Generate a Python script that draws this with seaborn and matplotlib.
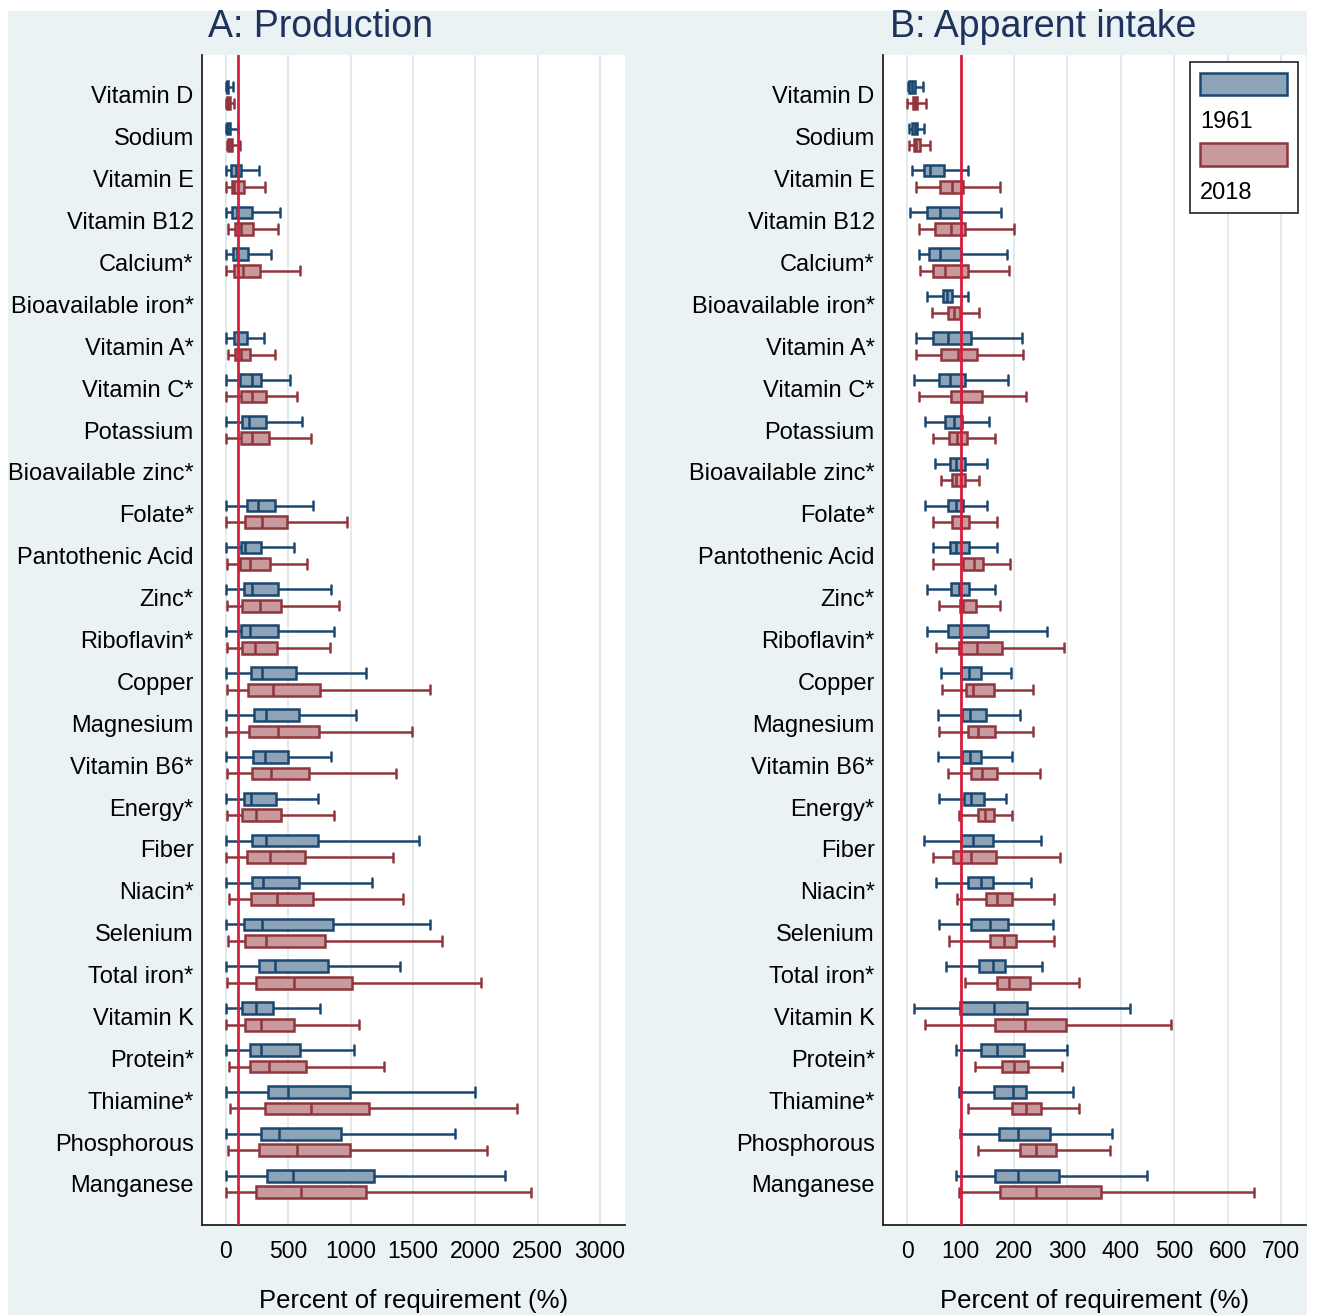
import numpy as np
import pandas as pd
import matplotlib
matplotlib.use("Agg")
import matplotlib.pyplot as plt
from matplotlib.patches import Rectangle
import seaborn as sns

# nutrients, top to bottom
nutrients = ["Vitamin D", "Sodium", "Vitamin E", "Vitamin B12", "Calcium*",
             "Bioavailable iron*", "Vitamin A*", "Vitamin C*", "Potassium",
             "Bioavailable zinc*", "Folate*", "Pantothenic Acid", "Zinc*",
             "Riboflavin*", "Copper", "Magnesium", "Vitamin B6*", "Energy*",
             "Fiber", "Niacin*", "Selenium", "Total iron*", "Vitamin K",
             "Protein*", "Thiamine*", "Phosphorous", "Manganese"]
years = ["1961", "2018"]

# five-number summaries (whisker low, q1, median, q3, whisker high), % of requirement
prod_1961 = [
    (0, 5, 10, 20, 55), (0, 5, 15, 35, 95), (0, 40, 78, 120, 265),
    (0, 48, 90, 211, 433), (0, 59, 85, 174, 358), None,
    (0, 64, 99, 166, 307), (0, 112, 208, 278, 513), (0, 131, 184, 318, 609),
    None, (0, 166, 259, 393, 700), (0, 120, 152, 283, 545),
    (0, 142, 206, 420, 839), (0, 120, 192, 420, 869), (0, 203, 291, 564, 1120),
    (0, 222, 323, 583, 1040), (0, 219, 313, 494, 845), (0, 144, 200, 401, 735),
    (0, 211, 323, 738, 1545), (0, 208, 294, 588, 1168), (0, 147, 289, 858, 1633),
    (0, 267, 390, 815, 1398), (0, 131, 238, 377, 756), (0, 192, 283, 593, 1024),
    (0, 339, 494, 997, 1994), (0, 281, 428, 925, 1836), (0, 329, 535, 1184, 2235),
]
prod_2018 = [
    (0, 5, 15, 30, 65), (5, 15, 35, 50, 110), (0, 45, 67, 145, 313),
    (13, 70, 123, 214, 420), (0, 67, 134, 275, 593), None,
    (13, 72, 118, 192, 396), (0, 123, 206, 318, 569), (0, 123, 208, 345, 679),
    None, (0, 152, 291, 492, 970), (5, 115, 195, 350, 650),
    (5, 128, 275, 438, 903), (5, 131, 235, 412, 837), (5, 179, 374, 756, 1636),
    (0, 187, 414, 746, 1492), (11, 211, 364, 663, 1363), (5, 128, 238, 438, 869),
    (0, 171, 355, 636, 1336), (21, 200, 412, 698, 1422), (13, 152, 323, 797, 1729),
    (11, 240, 545, 1010, 2045), (0, 155, 281, 543, 1069), (21, 192, 345, 639, 1264),
    (29, 313, 682, 1144, 2331), (13, 265, 572, 997, 2096), (0, 238, 604, 1120, 2443),
]
intake_1961 = [
    (1, 3, 9, 14, 29), (3, 9, 14, 19, 32), (9, 32, 42, 69, 113),
    (6, 36, 61, 99, 175), (22, 41, 62, 100, 186), (37, 66, 74, 84, 114),
    (17, 48, 76, 120, 215), (12, 59, 80, 109, 188), (34, 71, 87, 102, 154),
    (51, 80, 91, 109, 150), (33, 77, 92, 104, 149), (49, 80, 92, 115, 169),
    (37, 82, 96, 115, 165), (37, 76, 99, 152, 262), (63, 100, 115, 138, 194),
    (58, 102, 117, 147, 211), (57, 102, 117, 138, 196), (59, 106, 120, 143, 185),
    (32, 100, 123, 160, 250), (53, 114, 139, 160, 231), (59, 120, 155, 188, 273),
    (72, 135, 160, 183, 253), (13, 99, 162, 225, 418), (92, 138, 169, 219, 299),
    (97, 163, 198, 222, 311), (99, 172, 208, 267, 383), (91, 165, 208, 285, 449),
]
intake_2018 = [
    (0, 10, 14, 19, 35), (4, 13, 17, 24, 42), (17, 62, 84, 105, 174),
    (22, 52, 81, 109, 200), (23, 49, 71, 114, 190), (47, 77, 87, 99, 134),
    (16, 64, 95, 130, 217), (22, 81, 101, 140, 222), (48, 78, 94, 111, 164),
    (63, 83, 92, 109, 134), (49, 84, 100, 116, 168), (49, 105, 125, 142, 192),
    (59, 99, 105, 128, 174), (53, 97, 130, 177, 293), (65, 110, 124, 162, 236),
    (59, 114, 132, 164, 236), (77, 119, 140, 169, 248), (97, 132, 146, 163, 196),
    (49, 86, 120, 167, 286), (93, 147, 168, 197, 274), (79, 155, 182, 203, 275),
    (108, 169, 191, 229, 322), (33, 165, 220, 298, 495), (127, 178, 200, 227, 289),
    (114, 197, 222, 250, 322), (132, 212, 242, 278, 380), (97, 173, 242, 362, 650),
]

BG = "#EAF2F3"
GRID = "#DDE9EC"
BLUE_FILL, BLUE_LINE = "#8CA3B8", "#1A476F"
RED_FILL, RED_LINE = "#C89A9D", "#90353B"
REF = "#D81E3E"
TITLE = "#1E325C"


def long_table(s1961, s2018):
    rows = []
    for yr, summ in zip(years, [s1961, s2018]):
        for name, five in zip(nutrients, summ):
            if five is None:
                continue
            for v in five:
                rows.append({"nutrient": name, "year": yr, "value": v})
    return pd.DataFrame(rows)


sns.set_style("white")
plt.rcParams["font.family"] = ["Liberation Sans", "DejaVu Sans"]

W, H = 1317, 1315
fig = plt.figure(figsize=(W / 100, H / 100), dpi=100)
fig.patches.append(Rectangle((8 / W, 0), 1299 / W, 1304 / H, transform=fig.transFigure,
                             facecolor=BG, edgecolor="none", zorder=-1))


def fpos(l, t, r, b):
    return [l / W, 1 - b / H, (r - l) / W, (b - t) / H]


axA = fig.add_axes(fpos(202, 55, 625, 1225))
axB = fig.add_axes(fpos(883, 55, 1306, 1225))

panels = [
    (axA, long_table(prod_1961, prod_2018), (-192, 3200), np.arange(0, 3001, 500)),
    (axB, long_table(intake_1961, intake_2018), (-45.5, 747), np.arange(0, 701, 100)),
]

for ax, df, xlim, ticks in panels:
    for yr, edge in zip(years, [BLUE_LINE, RED_LINE]):
        sns.boxplot(data=df[df["year"] == yr], x="value", y="nutrient", hue="year",
                    order=nutrients, hue_order=years,
                    palette={"1961": BLUE_FILL, "2018": RED_FILL},
                    linecolor=edge, linewidth=1.8, saturation=1,
                    width=0.79, gap=0.29, whis=(0, 100), showfliers=False,
                    dodge=True, legend=False, capwidths=0.22, ax=ax)
    ax.axvline(100, color=REF, lw=2, zorder=5)
    ax.set_xlim(*xlim)
    ax.set_ylim(26.98, -0.955)
    ax.set_xticks(ticks)
    ax.set_axisbelow(True)
    ax.xaxis.grid(True, color=GRID, lw=1.3)
    ax.yaxis.grid(False)
    for s in ["top", "right"]:
        ax.spines[s].set_visible(False)
    for s in ["left", "bottom"]:
        ax.spines[s].set_color("#222222")
        ax.spines[s].set_linewidth(1.3)
    ax.tick_params(axis="x", length=6, width=1.2, labelsize=16.5, pad=5,
                   color="#222222", labelcolor="black")
    ax.tick_params(axis="y", length=0, labelsize=17, pad=6, labelcolor="black")
    ax.set_ylabel("")
    ax.set_xlabel("Percent of requirement (%)", fontsize=18.5, color="black")
    ax.xaxis.set_label_coords(0.5, -0.055)

fig.text(320 / W, 1 - 27 / H, "A: Production", ha="center", va="center",
         fontsize=27, color=TITLE)
fig.text(1043 / W, 1 - 27 / H, "B: Apparent intake", ha="center", va="center",
         fontsize=27, color=TITLE)

# legend box, handles stacked above their labels
tr = axB.transAxes
axB.add_patch(Rectangle((0.726, 0.865), 0.255, 0.129, transform=tr,
                        facecolor="white", edgecolor="#222222", lw=1.2, zorder=6))
axB.add_patch(Rectangle((0.749, 0.966), 0.206, 0.019, transform=tr,
                        facecolor=BLUE_FILL, edgecolor=BLUE_LINE, lw=1.8, zorder=7))
axB.add_patch(Rectangle((0.749, 0.905), 0.206, 0.0195, transform=tr,
                        facecolor=RED_FILL, edgecolor=RED_LINE, lw=1.8, zorder=7))
axB.text(0.749, 0.943, "1961", transform=tr, ha="left", va="center",
         fontsize=17, color="black", zorder=8)
axB.text(0.749, 0.882, "2018", transform=tr, ha="left", va="center",
         fontsize=17, color="black", zorder=8)

fig.savefig("out.png", dpi=100, facecolor="white")
